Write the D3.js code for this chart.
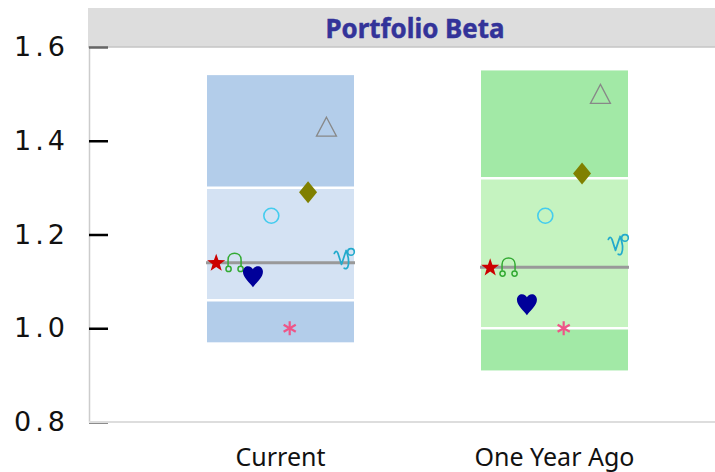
<!DOCTYPE html>
<html>
<head>
<meta charset="utf-8">
<script src="https://cdn.jsdelivr.net/npm/d3@7"></script>
<style>
  html, body { margin: 0; padding: 0; background: #fff; }
  svg { display: block; }
</style>
</head>
<body>
<svg id="chart" width="715" height="472"></svg>
<script>
// ---- data ----
const categories = ["Current", "One Year Ago"];
const rangeLow  = [0.97, 0.91];
const rangeHigh = [1.54, 1.55];
const bandLow   = [1.06, 1.00];
const bandHigh  = [1.30, 1.32];
const medians   = [1.14, 1.13];

// one value per category for each marker series
const seriesNames = ["star", "node", "heart", "circle", "asterisk", "diamond", "triangle", "capricorn"];
const starValues      = [1.14, 1.13];
const nodeValues      = [1.14, 1.13];
const heartValues     = [1.11, 1.05];
const circleValues    = [1.24, 1.24];
const asteriskValues  = [1.00, 1.00];
const diamondValues   = [1.29, 1.33];
const triangleValues  = [1.43, 1.50];
const capricornValues = [1.15, 1.18];

const yTicks = [0.8, 1.0, 1.2, 1.4, 1.6];
const titleText = "Portfolio Beta";

// ---- layout ----
const W = 715, H = 472;
const plotLeft = 89, plotRight = 715, plotTop = 47, plotBottom = 422;

const svg = d3.select("#chart");

const y = d3.scaleLinear().domain([0.8, 1.6]).range([plotBottom, plotTop]);
const x = d3.scaleBand().domain(categories)
  .range([143.5, 691.5]).paddingInner(0.4635).paddingOuter(0.2318);
const bw = x.bandwidth();
const xs = d3.scalePoint().domain(seriesNames).range([0, bw]).padding(0.5);

const boxColors = {
  "Current":      { outer: "#b3cdea", inner: "#d4e2f3" },
  "One Year Ago": { outer: "#a2e9a6", inner: "#c5f3c0" }
};

// ---- title strip ----
svg.append("rect")
  .attr("x", 88).attr("y", 8).attr("width", W - 88).attr("height", 39)
  .attr("fill", "#dddddd");
svg.append("line")
  .attr("x1", 88).attr("x2", W).attr("y1", 47).attr("y2", 47)
  .attr("stroke", "#c4c4c4").attr("stroke-width", 1.5);
svg.append("text")
  .attr("x", 415).attr("y", 37.5)
  .attr("text-anchor", "middle")
  .attr("font-family", "'Noto Sans', sans-serif")
  .attr("font-weight", "bold")
  .attr("font-size", 27)
  .attr("textLength", 179).attr("lengthAdjust", "spacingAndGlyphs")
  .attr("fill", "#333399")
  .attr("stroke", "#333399").attr("stroke-width", 0.5)
  .text(titleText);

// ---- boxes ----
const rows = categories.map((c, i) => ({
  cat: c, lo: rangeLow[i], hi: rangeHigh[i], blo: bandLow[i], bhi: bandHigh[i], med: medians[i]
}));

const g = svg.append("g");
g.selectAll("rect.outer").data(rows).join("rect")
  .attr("class", "outer")
  .attr("x", d => x(d.cat)).attr("width", bw)
  .attr("y", d => y(d.hi)).attr("height", d => y(d.lo) - y(d.hi))
  .attr("fill", d => boxColors[d.cat].outer);
g.selectAll("rect.inner").data(rows).join("rect")
  .attr("class", "inner")
  .attr("x", d => x(d.cat)).attr("width", bw)
  .attr("y", d => y(d.bhi)).attr("height", d => y(d.blo) - y(d.bhi))
  .attr("fill", d => boxColors[d.cat].inner);
// white separators at the band edges
rows.forEach(d => {
  [d.bhi, d.blo].forEach(v => {
    g.append("line")
      .attr("x1", x(d.cat)).attr("x2", x(d.cat) + bw)
      .attr("y1", y(v)).attr("y2", y(v))
      .attr("stroke", "#ffffff").attr("stroke-width", 2.5);
  });
});
// median lines
g.selectAll("line.median").data(rows).join("line")
  .attr("class", "median")
  .attr("x1", d => x(d.cat) - 1).attr("x2", d => x(d.cat) + bw + 1)
  .attr("y1", d => y(d.med)).attr("y2", d => y(d.med))
  .attr("stroke", "#999999").attr("stroke-width", 3);

// ---- axes ----
const L = 4; // letter spacing of the tick labels
const yAxis = svg.append("g")
  .attr("transform", `translate(${plotLeft},0)`)
  .call(d3.axisLeft(y).tickValues(yTicks).tickFormat(d3.format(".1f"))
    .tickSizeInner(-19).tickSizeOuter(0).tickPadding(24 - L));
yAxis.select(".domain").attr("stroke", "#cccccc").attr("stroke-width", 1.5);
yAxis.selectAll(".tick line")
  .attr("stroke", d => (d === 0.8 || d === 1.6) ? "#666666" : "#000000")
  .attr("stroke-width", 2.5);
yAxis.selectAll(".tick text")
  .attr("font-family", "'DejaVu Sans', sans-serif")
  .attr("font-size", 27)
  .attr("letter-spacing", L)
  .attr("fill", "#111");

// baseline along the bottom of the plot
svg.append("line")
  .attr("x1", plotLeft).attr("x2", plotRight)
  .attr("y1", plotBottom).attr("y2", plotBottom)
  .attr("stroke", "#dddddd").attr("stroke-width", 2);

const xAxis = svg.append("g")
  .attr("transform", `translate(0,${plotBottom})`)
  .call(d3.axisBottom(x).tickSize(0).tickPadding(26));
xAxis.select(".domain").remove();
xAxis.selectAll(".tick text")
  .attr("font-family", "'Noto Sans', sans-serif")
  .attr("font-size", 25)
  .attr("fill", "#111");

// ---- markers ----
const markerValues = {
  star: starValues, node: nodeValues, heart: heartValues, circle: circleValues,
  asterisk: asteriskValues, diamond: diamondValues, triangle: triangleValues, capricorn: capricornValues
};

function starPath(r) {
  const ri = r * 0.4;
  let p = "";
  for (let k = 0; k < 10; k++) {
    const a = -Math.PI / 2 + k * Math.PI / 5;
    const rr = k % 2 === 0 ? r : ri;
    p += (k === 0 ? "M" : "L") + (rr * Math.cos(a)).toFixed(2) + "," + (rr * Math.sin(a)).toFixed(2);
  }
  return p + "Z";
}
const heartPath = "M0,10.5 C-3,6 -10,1 -10,-5 C-10,-8.5 -7.5,-10.5 -5,-10.5 C-2.5,-10.5 -0.8,-9 0,-7.5 " +
  "C0.8,-9 2.5,-10.5 5,-10.5 C7.5,-10.5 10,-8.5 10,-5 C10,1 3,6 0,10.5 Z";

const points = [];
seriesNames.forEach(s => {
  categories.forEach((c, i) => points.push({ s, cat: c, v: markerValues[s][i] }));
});

const mg = svg.append("g");
points.forEach(p => {
  const cx = x(p.cat) + xs(p.s);
  const cy = y(p.v);
  const t = mg.append("g").attr("transform", `translate(${cx},${cy})`);
  switch (p.s) {
    case "star":
      t.append("path").attr("d", starPath(9.5)).attr("fill", "#cc0000").attr("transform", "translate(0,0.5)");
      break;
    case "node": {
      const green = "#33aa33";
      t.append("path")
        .attr("d", "M-6.5,3.5 V-3 C-6.5,-11.5 6.5,-11.5 6.5,-3 V3.5")
        .attr("fill", "none").attr("stroke", green).attr("stroke-width", 1.5);
      [-6, 6].forEach(cxo => t.append("circle").attr("cx", cxo).attr("cy", 6.3).attr("r", 2.6)
        .attr("fill", "none").attr("stroke", green).attr("stroke-width", 1.5));
      break;
    }
    case "heart":
      t.append("path").attr("d", heartPath).attr("fill", "#000099");
      break;
    case "circle":
      t.append("circle").attr("r", 7.5)
        .attr("fill", "none").attr("stroke", "#44ccee").attr("stroke-width", 1.6);
      break;
    case "asterisk":
      [90, 30, -30].forEach(a => {
        const r = 7, rad = a * Math.PI / 180;
        t.append("line")
          .attr("x1", -r * Math.cos(rad)).attr("y1", -r * Math.sin(rad))
          .attr("x2", r * Math.cos(rad)).attr("y2", r * Math.sin(rad))
          .attr("stroke", "#ee5588").attr("stroke-width", 2.2);
      });
      break;
    case "diamond":
      t.append("path").attr("d", "M0,-11 L9,0 L0,11 L-9,0 Z").attr("fill", "#808000");
      break;
    case "triangle":
      t.append("path").attr("d", "M0,-9.5 L10,9.5 L-10,9.5 Z")
        .attr("fill", "none").attr("stroke", "#888888").attr("stroke-width", 1.3);
      break;
    case "capricorn": {
      // capricorn sign: a "V" with a hooked left arm, a long tail and a loop
      const teal = "#22aacc";
      t.append("path")
        .attr("d", "M-10.5,-4.5 Q-8.5,-8.5 -6.8,-4.5 L-3.3,6.5 L0.8,-6 " +
                   "M1.2,-7.5 C3.5,-2 4.5,5 2.8,9.5 Q1.8,11.5 -0.6,10.3")
        .attr("fill", "none").attr("stroke", teal).attr("stroke-width", 1.7)
        .attr("stroke-linecap", "round").attr("stroke-linejoin", "round");
      t.append("circle").attr("cx", 6.2).attr("cy", -6).attr("r", 3.3)
        .attr("fill", "none").attr("stroke", teal).attr("stroke-width", 1.6);
      break;
    }
  }
});
</script>
</body>
</html>
